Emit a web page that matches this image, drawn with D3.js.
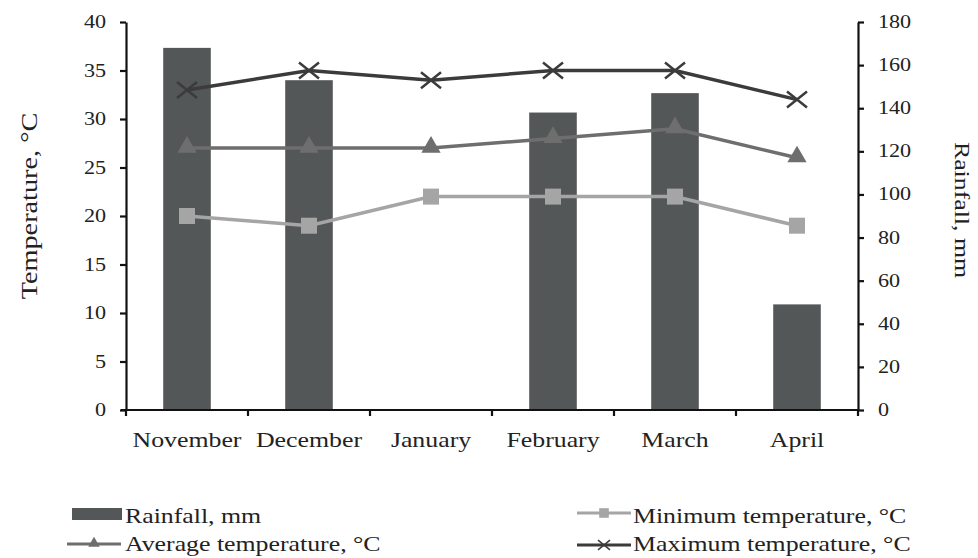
<!DOCTYPE html>
<html>
<head>
<meta charset="utf-8">
<script src="https://cdn.jsdelivr.net/npm/d3@7"></script>
<style>
  body { margin: 0; background: #fff; }
  text { font-family: "Liberation Serif", "DejaVu Serif", serif; fill: #222; }
</style>
</head>
<body>
<svg id="chart" width="978" height="558"></svg>
<script>

// values
var months = ['November', 'December', 'January', 'February', 'March', 'April']
var rainfall = [168, 153, 0, 138, 147, 49]
var minTemp = [20, 19, 22, 22, 22, 19]
var avgTemp = [27, 27, 27, 28, 29, 26]
var maxTemp = [33, 35, 34, 35, 35, 32]
var tempTicks = [0, 5, 10, 15, 20, 25, 30, 35, 40]
var rainTicks = [0, 20, 40, 60, 80, 100, 120, 140, 160, 180]

var svg = d3.select('#chart')
var plotL = 126, plotR = 858, plotT = 22, plotB = 410
var stretch = 1.23   // the scan is a bit wide, so text is stretched sideways

var x = d3.scaleBand().domain(months).range([plotL, plotR]).paddingInner(0.61).paddingOuter(0.305)
var yT = d3.scaleLinear().domain([0, 40]).range([plotB, plotT])
var yR = d3.scaleLinear().domain([0, 180]).range([plotB, plotT])

var barColor = '#545758'
var lineColors = { min: '#a5a5a5', avg: '#6e6e6e', max: '#3b3b3b' }

function addText(parent, str, px, py, size, anchor, rot){
    return parent.append('text')
        .attr('transform', 'translate(' + px + ',' + py + ')' + (rot ? ' rotate(' + rot + ')' : '') + ' scale(' + stretch + ',1)')
        .attr('text-anchor', anchor || 'start')
        .style('font-size', size + 'px')
        .text(str)
}

// bars
svg.append('g').selectAll('rect')
    .data(rainfall)
    .enter().append('rect')
    .attr('x', function(d, i){ return x(months[i]) })
    .attr('width', x.bandwidth())
    .attr('y', function(d){ return yR(d) })
    .attr('height', function(d){ return plotB - yR(d) })
    .attr('fill', barColor)

// axes (labels drawn by hand so they can be stretched)
var gL = svg.append('g').attr('transform', 'translate(' + plotL + ',0)')
    .call(d3.axisLeft(yT).tickValues(tempTicks).tickSize(6).tickSizeOuter(0).tickFormat(''))
var gR = svg.append('g').attr('transform', 'translate(' + plotR + ',0)')
    .call(d3.axisRight(yR).tickValues(rainTicks).tickSize(6).tickSizeOuter(0).tickFormat(''))
;[gL, gR].forEach(function(g){
    g.select('.domain').attr('stroke', '#111').attr('stroke-width', 2.2)
    g.selectAll('.tick line').attr('stroke', '#111').attr('stroke-width', 2.2)
})
tempTicks.forEach(function(t){ addText(svg, t, 106, yT(t) + 6, 18, 'end') })
rainTicks.forEach(function(t){ addText(svg, t, 878, yR(t) + 6, 18, 'start') })

var boundaries = d3.range(months.length + 1).map(function(i){ return plotL + i * x.step() })
var gX = svg.append('g').attr('transform', 'translate(0,' + plotB + ')')
gX.append('line').attr('x1', plotL - 5).attr('x2', plotR + 1).attr('stroke', '#111').attr('stroke-width', 2.2)
gX.selectAll('.xt').data(boundaries).enter().append('line')
    .attr('x1', function(d){ return d }).attr('x2', function(d){ return d })
    .attr('y1', 0).attr('y2', 6).attr('stroke', '#111').attr('stroke-width', 2.2)
months.forEach(function(m){ addText(svg, m, x(m) + x.bandwidth() / 2, 447, 21, 'middle') })

// axis titles
addText(svg, 'Temperature, °C', 37, 206, 23, 'middle', -90)
addText(svg, 'Rainfall, mm', 955, 210, 21, 'middle', 90)

// lines + markers
var cx = function(i){ return x(months[i]) + x.bandwidth() / 2 }
var line = d3.line().x(function(d, i){ return cx(i) }).y(function(d){ return yT(d) })

function drawMarker(g, type, px, py, color){
    if (type === 'square') {
        g.append('rect').attr('x', px - 8).attr('y', py - 8).attr('width', 16).attr('height', 16).attr('fill', color)
    } else if (type === 'triangle') {
        g.append('path').attr('d', d3.symbol().type(d3.symbolTriangle).size(160)()).attr('transform', 'translate(' + px + ',' + (py - 1) + ')').attr('fill', color)
    } else {
        g.append('path').attr('d', 'M-10,-8L10,8M-10,8L10,-8').attr('transform', 'translate(' + px + ',' + py + ')')
            .attr('stroke', color).attr('stroke-width', 2.5).attr('fill', 'none')
    }
}

var series = [
    { values: minTemp, color: lineColors.min, marker: 'square' },
    { values: avgTemp, color: lineColors.avg, marker: 'triangle' },
    { values: maxTemp, color: lineColors.max, marker: 'cross' }
]
series.forEach(function(s){
    var g = svg.append('g')
    g.append('path').datum(s.values).attr('d', line).attr('fill', 'none').attr('stroke', s.color).attr('stroke-width', 3.5)
    s.values.forEach(function(v, i){ drawMarker(g, s.marker, cx(i), yT(v), s.color) })
})

// legend
var legend = [
    { label: 'Rainfall, mm', x: 72, y: 514, kind: 'bar', color: barColor },
    { label: 'Average temperature, °C', x: 67, y: 544, kind: 'triangle', color: lineColors.avg },
    { label: 'Minimum temperature, °C', x: 577, y: 513, kind: 'square', color: lineColors.min },
    { label: 'Maximum temperature, °C', x: 577, y: 545, kind: 'cross', color: lineColors.max }
]
legend.forEach(function(l){
    var g = svg.append('g')
    if (l.kind === 'bar') {
        g.append('rect').attr('x', l.x).attr('y', l.y - 6).attr('width', 50).attr('height', 12).attr('fill', l.color)
    } else {
        g.append('line').attr('x1', l.x).attr('x2', l.x + 54).attr('y1', l.y).attr('y2', l.y).attr('stroke', l.color).attr('stroke-width', 3)
        var mg = g.append('g').attr('transform', 'translate(' + (l.x + 27) + ',' + l.y + ') scale(0.6)')
        drawMarker(mg, l.kind, 0, 0, l.color)
    }
})
addText(svg, 'Rainfall, mm', 125, 523, 21)
addText(svg, 'Average temperature, °C', 125, 551, 21)
addText(svg, 'Minimum temperature, °C', 633, 523, 21)
addText(svg, 'Maximum temperature, °C', 633, 551, 21)

</script>
</body>
</html>
